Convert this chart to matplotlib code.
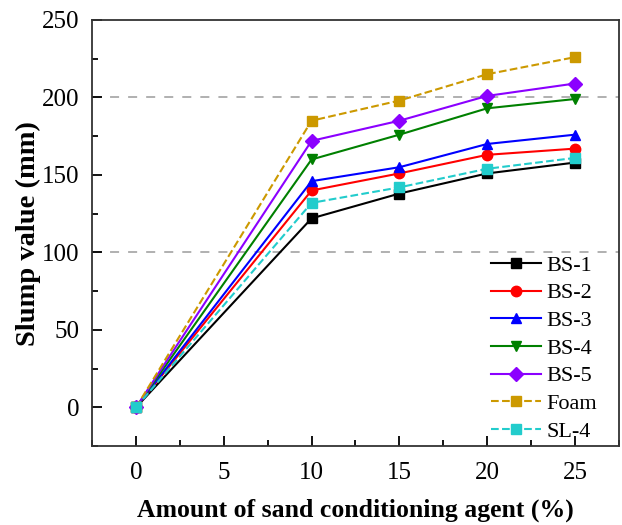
import matplotlib.pyplot as plt
from matplotlib.ticker import MultipleLocator

plt.rcParams['font.family'] = ['Liberation Serif', 'DejaVu Serif']

# sand conditioning agent amount (%)
amount = [0, 10, 15, 20, 25]

# slump values (mm)
bs1 = [0, 122, 138, 151, 158]
bs2 = [0, 140, 151, 163, 167]
bs3 = [0, 146, 155, 170, 176]
bs4 = [0, 160, 176, 193, 199]
bs5 = [0, 172, 185, 201, 209]
foam = [0, 185, 198, 215, 226]
sl4 = [0, 132, 142, 154, 161]

names = ['BS-1', 'BS-2', 'BS-3', 'BS-4', 'BS-5', 'Foam', 'SL-4']
series = [bs1, bs2, bs3, bs4, bs5, foam, sl4]
colors = ['black', '#ff0000', '#0000ff', '#008000', '#8b00ff', '#cc9900', '#22cccc']
markers = ['s', 'o', '^', 'v', 'D', 's', 's']
styles = ['-', '-', '-', '-', '-', '--', '--']

fig = plt.figure(figsize=(6.22, 5.25), dpi=100)
ax = fig.add_axes([0.148, 0.150, 0.847, 0.812])

ax.axhline(100, color='#aaaaaa', ls=(0, (5, 5)), lw=1.3, zorder=1)
ax.axhline(200, color='#aaaaaa', ls=(0, (5, 5)), lw=1.3, zorder=1)

for vals, name, c, m, s in zip(series, names, colors, markers, styles):
    ms = 7 if m == 'D' else 7.5
    ax.plot(amount, vals, color=c, marker=m, ls=s, lw=1.5, ms=ms, label=name, zorder=3)

ax.set_xlim(-2.5, 27.5)
ax.set_ylim(-25, 250)
ax.xaxis.set_major_locator(MultipleLocator(5))
ax.xaxis.set_minor_locator(MultipleLocator(2.5))
ax.yaxis.set_major_locator(MultipleLocator(50))
ax.yaxis.set_minor_locator(MultipleLocator(25))
ax.tick_params(which='both', direction='in', labelsize=18, top=False, right=False, width=1.3)
ax.tick_params(which='major', length=7)
ax.tick_params(which='minor', length=4)
ax.tick_params(axis='x', pad=11)
ax.tick_params(axis='y', pad=9)
for sp in ax.spines.values():
    sp.set_linewidth(1.3)
    sp.set_color('#333333')

ax.set_xlabel('Amount of sand conditioning agent (%)', fontsize=18.5, fontweight='bold', labelpad=11)
ax.set_ylabel('Slump value (mm)', fontsize=20.5, fontweight='bold', labelpad=1)

ax.legend(loc='lower right', bbox_to_anchor=(0.975, -0.01), frameon=False, fontsize=16,
          handlelength=2.25, labelspacing=0.32, handletextpad=0.25, borderaxespad=0)

fig.savefig('out.png', dpi=100)
